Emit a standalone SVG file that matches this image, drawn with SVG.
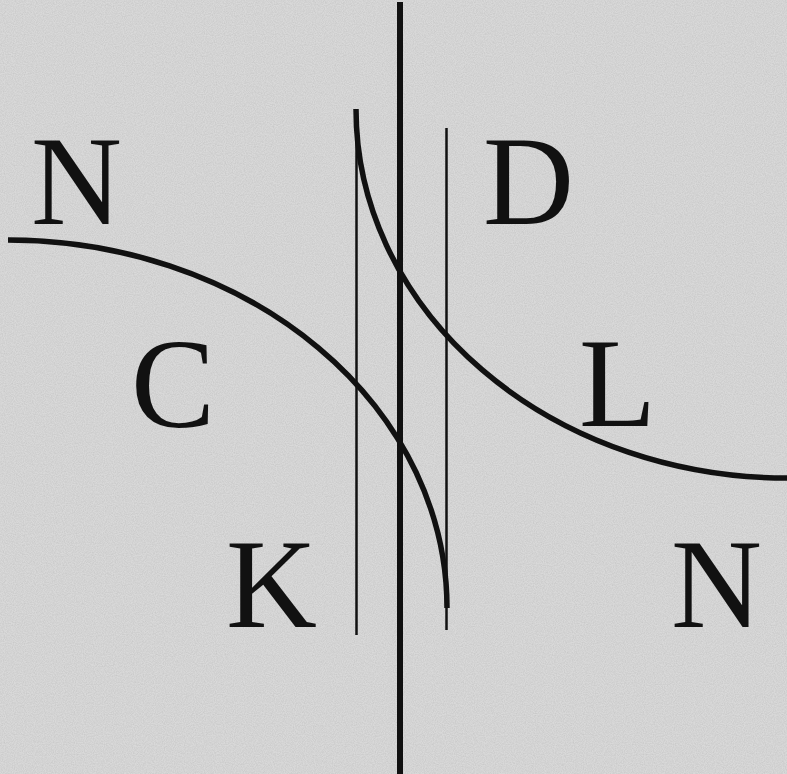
<svg xmlns="http://www.w3.org/2000/svg" width="787" height="774" viewBox="0 0 787 774">
  <defs>
    <filter id="noise" x="0" y="0" width="100%" height="100%">
      <feTurbulence type="fractalNoise" baseFrequency="0.9" numOctaves="2" seed="3" result="t"/>
      <feColorMatrix in="t" type="matrix" values="0 0 0 0 0.45  0 0 0 0 0.45  0 0 0 0 0.45  0 0 0 0.7 -0.2"/>
    </filter>
  </defs>
  <style>
    .lbl { font-family: "Liberation Serif", "Times New Roman", serif; font-size: 126px; fill: #111; }
    .thin { stroke: #111; stroke-width: 2.5; fill: none; }
    .thick { stroke: #111; stroke-width: 6; fill: none; }
    .curve { stroke: #111; stroke-width: 5.5; fill: none; }
  </style>
  <rect width="787" height="774" fill="#d9d9d9"/>
  <rect width="787" height="774" filter="url(#noise)"/>
  <g id="connectors">
    <line id="axis" class="thick" x1="400" y1="2" x2="400" y2="774"/>
    <line id="left-guide" class="thin" x1="356.5" y1="112" x2="356.5" y2="635"/>
    <line id="right-guide" class="thin" x1="446.5" y1="128" x2="446.5" y2="630"/>
    <path id="curve-left" class="curve" d="M8,240 A439,368 0 0 1 447,608"/>
    <path id="curve-right" class="curve" d="M356,109 A431,369 0 0 0 787,478"/>
  </g>
  <g id="label-N1"><text class="lbl" x="31" y="224">N</text></g>
  <g id="label-D"><text class="lbl" x="483" y="224">D</text></g>
  <g id="label-C"><text class="lbl" x="131" y="427">C</text></g>
  <g id="label-L"><text class="lbl" x="579" y="426">L</text></g>
  <g id="label-K"><text class="lbl" x="226" y="627">K</text></g>
  <g id="label-N2"><text class="lbl" x="671" y="627">N</text></g>
</svg>
